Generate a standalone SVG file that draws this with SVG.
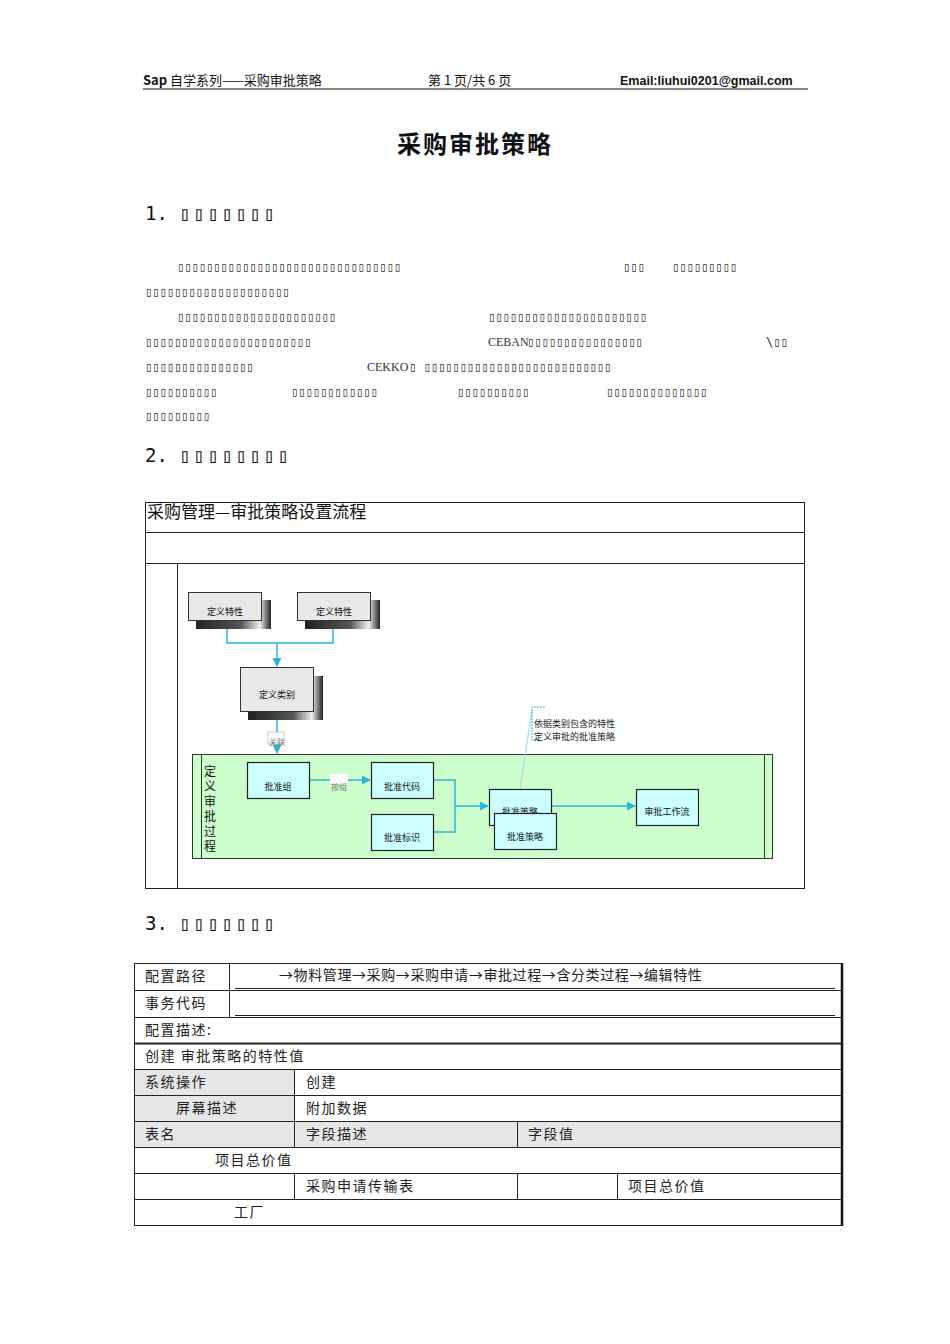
<svg xmlns="http://www.w3.org/2000/svg" width="950" height="1344" viewBox="0 0 950 1344">
<style>
.cjk{font-family:"Noto Sans CJK SC",sans-serif}
.mono{font-family:"DejaVu Sans Mono","Noto Sans CJK SC",monospace;font-size:12px;fill:#333}
.h{font-family:"DejaVu Sans Mono","Noto Sans CJK SC",monospace;font-size:19px;fill:#111}
.hb{letter-spacing:2.6px}
.box{fill:#ccffff;stroke:#222;stroke-width:1.2}
.front{fill:#e8e8e8;stroke:#333;stroke-width:1}
.lbl{font-family:"Noto Sans CJK SC",sans-serif;font-size:9px;fill:#111;text-anchor:middle}
.con{stroke:#29b6d8;stroke-width:1.5;fill:none}
.t{font-family:"Noto Sans CJK SC",sans-serif;font-size:14px;fill:#222}
.cell{fill:none;stroke:#222;stroke-width:1}
</style>
<defs>
<linearGradient id="sh" x1="0" x2="1" y1="0" y2="0"><stop offset="0" stop-color="#222"/><stop offset="0.6" stop-color="#555"/><stop offset="0.85" stop-color="#eee"/><stop offset="1" stop-color="#222"/></linearGradient>
<marker id="ar" viewBox="0 0 10 10" refX="9" refY="5" markerWidth="6" markerHeight="6" orient="auto"><path d="M0,0L10,5L0,10z" fill="#29b6d8"/></marker>
</defs>
<rect width="950" height="1344" fill="#fff"/>
<g id="header">
<text x="143" y="85" class="cjk" font-size="13" fill="#111"><tspan font-weight="bold">Sap</tspan> 自学系列——采购审批策略</text>
<text x="428" y="85" class="cjk" font-size="13" fill="#111">第 1 页/共 6 页</text>
<text x="620" y="85" font-family="Liberation Sans,sans-serif" font-size="12.5" font-weight="bold" fill="#111">Email:liuhui0201@gmail.com</text>
<line x1="143" y1="89" x2="808" y2="89" stroke="#111" stroke-width="1.2"/>
</g>
<text x="475" y="153" class="cjk" font-size="24" font-weight="bold" text-anchor="middle" fill="#111" letter-spacing="2">采购审批策略</text>
<text x="145" y="220" class="h">1. <tspan class="hb">▯▯▯▯▯▯▯</tspan></text>
<g class="mono">
<text x="177" y="271">▯▯▯▯▯▯▯▯▯▯▯▯▯▯▯▯▯▯▯▯▯▯▯▯▯▯▯▯▯▯▯</text>
<text x="623" y="271">▯▯▯</text><text x="672" y="271">▯▯▯▯▯▯▯▯▯</text>
<text x="145" y="296">▯▯▯▯▯▯▯▯▯▯▯▯▯▯▯▯▯▯▯▯</text>
<text x="177" y="321">▯▯▯▯▯▯▯▯▯▯▯▯▯▯▯▯▯▯▯▯▯▯</text><text x="488" y="321">▯▯▯▯▯▯▯▯▯▯▯▯▯▯▯▯▯▯▯▯▯▯</text>
<text x="145" y="346">▯▯▯▯▯▯▯▯▯▯▯▯▯▯▯▯▯▯▯▯▯▯▯</text><text x="488" y="346" font-family="Liberation Serif,serif">CEBAN</text><text x="527" y="346">▯▯▯▯▯▯▯▯▯▯▯▯▯▯▯▯</text><text x="766" y="346">\▯▯</text>
<text x="145" y="371">▯▯▯▯▯▯▯▯▯▯▯▯▯▯▯</text><text x="367" y="371" font-family="Liberation Serif,serif">CEKKO</text><text x="409" y="371">▯ ▯▯▯▯▯▯▯▯▯▯▯▯▯▯▯▯▯▯▯▯▯▯▯▯▯▯</text>
<text x="145" y="396">▯▯▯▯▯▯▯▯▯▯</text><text x="291" y="396">▯▯▯▯▯▯▯▯▯▯▯▯</text><text x="457" y="396">▯▯▯▯▯▯▯▯▯▯</text><text x="606" y="396">▯▯▯▯▯▯▯▯▯▯▯▯▯▯</text>
<text x="145" y="420">▯▯▯▯▯▯▯▯▯</text>
</g>
<text x="145" y="462" class="h">2. <tspan class="hb">▯▯▯▯▯▯▯▯</tspan></text>
<g id="frame" fill="none" stroke="#222" stroke-width="1">
<rect x="145.5" y="502.5" width="659" height="386"/>
<line x1="145" y1="532.5" x2="805" y2="532.5"/>
<line x1="145" y1="563.5" x2="805" y2="563.5"/>
<line x1="177.5" y1="563" x2="177.5" y2="888"/>
</g>
<text x="147" y="518" class="cjk" font-size="17" fill="#111">采购管理—审批策略设置流程</text>
<g id="band">
<rect x="192.5" y="754.5" width="580" height="104" fill="#ccffcc" stroke="#333"/>
<line x1="201.5" y1="754" x2="201.5" y2="858" stroke="#333"/>
<line x1="764.5" y1="754" x2="764.5" y2="858" stroke="#333"/>
<g class="cjk" font-size="12" fill="#111" text-anchor="middle">
<text x="210" y="776">定</text><text x="210" y="791">义</text><text x="210" y="806">审</text><text x="210" y="821">批</text><text x="210" y="836">过</text><text x="210" y="851">程</text>
</g>
</g>
<g id="connectors">
<path class="con" d="M227,620V643H333V620"/>
<path class="con" d="M277,643V666" marker-end="url(#ar)"/>
<path class="con" d="M277,711V753" marker-end="url(#ar)"/>
<rect x="268" y="732" width="16" height="12" fill="#fff" stroke="#aaa" stroke-width="0.6"/>
<text x="277" y="745" font-family="Noto Sans CJK SC,serif" font-size="8" fill="#777" text-anchor="middle">关联</text>
<path class="con" d="M309,780H370" marker-end="url(#ar)"/>
<rect x="330" y="774" width="18" height="10" fill="#fff"/>
<text x="339" y="790" font-family="Noto Sans CJK SC,serif" font-size="8" fill="#777" text-anchor="middle">按组</text>
<path class="con" d="M433,780H455V832H433M455,806H488" marker-end="url(#ar)"/>
<path class="con" d="M552,806H635" marker-end="url(#ar)"/>
<path d="M520,789L532,710" stroke="#9ee0e8" stroke-width="1.2" fill="none"/>
<path d="M545,707H532V740H540" stroke="#29b6d8" stroke-width="1" stroke-dasharray="2,1" fill="none"/>
<text x="534" y="727" font-family="Noto Sans CJK SC,serif" font-size="9" fill="#222">依据类别包含的特性</text>
<text x="534" y="740" font-family="Noto Sans CJK SC,serif" font-size="9" fill="#222">定义审批的批准策略</text>
</g>
<g id="n1"><rect x="196" y="600" width="75" height="29" fill="url(#sh)"/><rect class="front" x="188.5" y="592.5" width="73" height="28"/><text class="lbl" x="225" y="615">定义特性</text></g>
<g id="n2"><rect x="305" y="600" width="75" height="29" fill="url(#sh)"/><rect class="front" x="297.5" y="592.5" width="73" height="28"/><text class="lbl" x="334" y="615">定义特性</text></g>
<g id="n3"><rect x="248" y="676" width="75" height="44" fill="url(#sh)"/><rect class="front" x="240.5" y="667.5" width="73" height="44"/><text class="lbl" x="277" y="698">定义类别</text></g>
<g id="n4"><rect class="box" x="247.5" y="762.5" width="62" height="36"/><text class="lbl" x="278" y="790">批准组</text></g>
<g id="n5"><rect class="box" x="371.5" y="762.5" width="62" height="36"/><text class="lbl" x="402" y="790">批准代码</text></g>
<g id="n6"><rect class="box" x="371.5" y="814.5" width="62" height="36"/><text class="lbl" x="402" y="841">批准标识</text></g>
<g id="n7"><rect class="box" x="489.5" y="789.5" width="62" height="36"/><text class="lbl" x="520" y="815">批准策略</text></g>
<g id="n8"><rect class="box" x="494.5" y="813.5" width="62" height="36"/><text class="lbl" x="525" y="840">批准策略</text></g>
<g id="n9"><rect class="box" x="636.5" y="789.5" width="62" height="36"/><text class="lbl" x="667" y="815">审批工作流</text></g>
<text x="145" y="930" class="h">3. <tspan class="hb">▯▯▯▯▯▯▯</tspan></text>
<g id="table">
<rect x="134" y="1069" width="160" height="52" fill="#e6e6e6"/>
<rect x="134" y="1121" width="707" height="26" fill="#e6e6e6"/>
<rect class="cell" x="134.5" y="963.5" width="707" height="262"/>
<line x1="842" y1="963" x2="842" y2="1226" stroke="#111" stroke-width="2.5"/>
<g class="cell">
<line x1="134" y1="990.5" x2="841" y2="990.5"/><line x1="134" y1="1017.5" x2="841" y2="1017.5"/>
<line x1="134" y1="1043.5" x2="841" y2="1043.5" stroke-width="2"/><line x1="134" y1="1069.5" x2="841" y2="1069.5"/>
<line x1="134" y1="1095.5" x2="841" y2="1095.5"/><line x1="134" y1="1121.5" x2="841" y2="1121.5"/>
<line x1="134" y1="1147.5" x2="841" y2="1147.5"/><line x1="134" y1="1173.5" x2="841" y2="1173.5"/>
<line x1="134" y1="1199.5" x2="841" y2="1199.5"/>
<line x1="229.5" y1="963" x2="229.5" y2="1017"/>
<line x1="294.5" y1="1069" x2="294.5" y2="1147"/><line x1="294.5" y1="1173" x2="294.5" y2="1199"/>
<line x1="517.5" y1="1121" x2="517.5" y2="1147"/><line x1="517.5" y1="1173" x2="517.5" y2="1199"/>
<line x1="617.5" y1="1173" x2="617.5" y2="1199"/>
<line x1="235" y1="988.5" x2="835" y2="988.5"/><line x1="235" y1="1015.5" x2="835" y2="1015.5"/>
</g>
<g class="t" letter-spacing="1.5">
<text x="145" y="981">配置路径</text>
<text x="279" y="980" letter-spacing="0.6">→物料管理→采购→采购申请→审批过程→含分类过程→编辑特性</text>
<text x="145" y="1008">事务代码</text>
<text x="145" y="1035">配置描述:</text>
<text x="145" y="1061">创建 审批策略的特性值</text>
<text x="145" y="1087">系统操作</text><text x="306" y="1087">创建</text>
<text x="176" y="1113">屏幕描述</text><text x="306" y="1113">附加数据</text>
<text x="145" y="1139">表名</text><text x="306" y="1139">字段描述</text><text x="528" y="1139">字段值</text>
<text x="215" y="1165">项目总价值</text>
<text x="306" y="1191">采购申请传输表</text><text x="628" y="1191">项目总价值</text>
<text x="234" y="1217">工厂</text>
</g>
</g>
</svg>
